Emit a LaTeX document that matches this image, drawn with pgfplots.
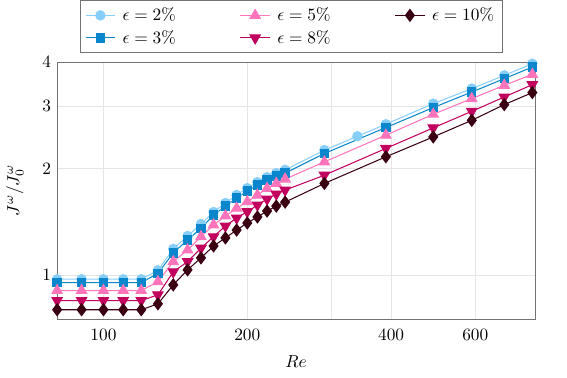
\documentclass[border=0pt]{standalone}
\usepackage{pgfplots}
\pgfplotsset{compat=1.18}
\definecolor{cA}{HTML}{87CEFA}
\definecolor{cB}{HTML}{0A87CC}
\definecolor{cC}{HTML}{FF74BA}
\definecolor{cD}{HTML}{C2005E}
\definecolor{cE}{HTML}{3A0012}
\begin{document}
\begin{tikzpicture}
\begin{axis}[
    scale only axis,
    width=276pt, height=148.5pt,
    xmode=log, ymode=log,
    xmin=80, xmax=800,
    ymin=0.75, ymax=4,
    xtick={100,200,300,400,600},
    xticklabels={100,200,,400,600},
    ytick={1,2,3,4},
    yticklabels={1,2,3,4},
    minor xtick={}, minor ytick={},
    major tick length=0pt,
    xticklabel shift=2pt,
    xlabel shift=1.5pt,
    ylabel shift=4pt,
    grid=major,
    major grid style={black!10},
    axis line style={black!55},
    xlabel={$Re$},
    ylabel={$J^\omega / J^\omega_0$},
    legend columns=2,
    transpose legend,
    legend style={at={(0.49,1.035)}, anchor=south, draw=black!55,
        column sep=2pt, /tikz/every even column/.append style={column sep=35pt}},
    legend cell align=left,
    every axis plot/.append style={line width=0.6pt},
]
\addplot[cA, mark=*, mark size=2.7pt] coordinates {
(80,0.972)(90,0.972)(100,0.972)(110,0.972)(120,0.972)(130,1.03)
(140,1.184)(150,1.288)(160,1.393)(170,1.505)(180,1.596)(190,1.681)
(200,1.759)(210,1.829)(220,1.889)(230,1.94)(240,1.982)
(290,2.252)(340,2.466)(390,2.667)(490,3.05)(590,3.363)(690,3.666)(790,3.956)};
\addlegendentry{$\epsilon=2\%$}
\addplot[cB, mark=square*, mark size=2.4pt] coordinates {
(80,0.951)(90,0.951)(100,0.951)(110,0.951)(120,0.951)(130,1.01)
(140,1.154)(150,1.255)(160,1.354)(170,1.476)(180,1.565)(190,1.649)
(200,1.726)(210,1.794)(220,1.854)(230,1.903)(240,1.94)
(290,2.204)(390,2.61)(490,2.972)(590,3.289)(690,3.589)(790,3.87)};
\addlegendentry{$\epsilon=3\%$}
\addplot[cC, mark=triangle*, mark size=3.4pt] coordinates {
(80,0.903)(90,0.903)(100,0.903)(110,0.903)(120,0.903)(130,0.956)
(140,1.09)(150,1.176)(160,1.282)(170,1.384)(180,1.467)(190,1.543)
(200,1.61)(210,1.681)(220,1.756)(230,1.814)(240,1.866)
(290,2.087)(390,2.483)(490,2.846)(590,3.151)(690,3.436)(790,3.69)};
\addlegendentry{$\epsilon=5\%$}
\addplot[cD, mark=triangle*, mark options={rotate=180}, mark size=3.4pt] coordinates {
(80,0.846)(90,0.846)(100,0.846)(110,0.846)(120,0.846)(130,0.878)
(140,1.02)(150,1.09)(160,1.19)(170,1.282)(180,1.375)(190,1.448)
(200,1.509)(210,1.576)(220,1.638)(230,1.692)(240,1.737)
(290,1.914)(390,2.278)(490,2.604)(590,2.901)(690,3.184)(790,3.451)};
\addlegendentry{$\epsilon=8\%$}
\addplot[cE, mark=diamond*, mark size=3.4pt] coordinates {
(80,0.797)(90,0.797)(100,0.797)(110,0.797)(120,0.797)(130,0.828)
(140,0.937)(150,1.033)(160,1.117)(170,1.207)(180,1.272)(190,1.339)
(200,1.402)(210,1.458)(220,1.515)(230,1.565)(240,1.606)
(290,1.814)(390,2.157)(490,2.455)(590,2.736)(690,3.03)(790,3.277)};
\addlegendentry{$\epsilon=10\%$}
\end{axis}
\path ([xshift=-33pt,yshift=-34pt]current axis.south west)
  rectangle ([xshift=18.5pt,yshift=35.8pt]current axis.north east);
\end{tikzpicture}
\end{document}
